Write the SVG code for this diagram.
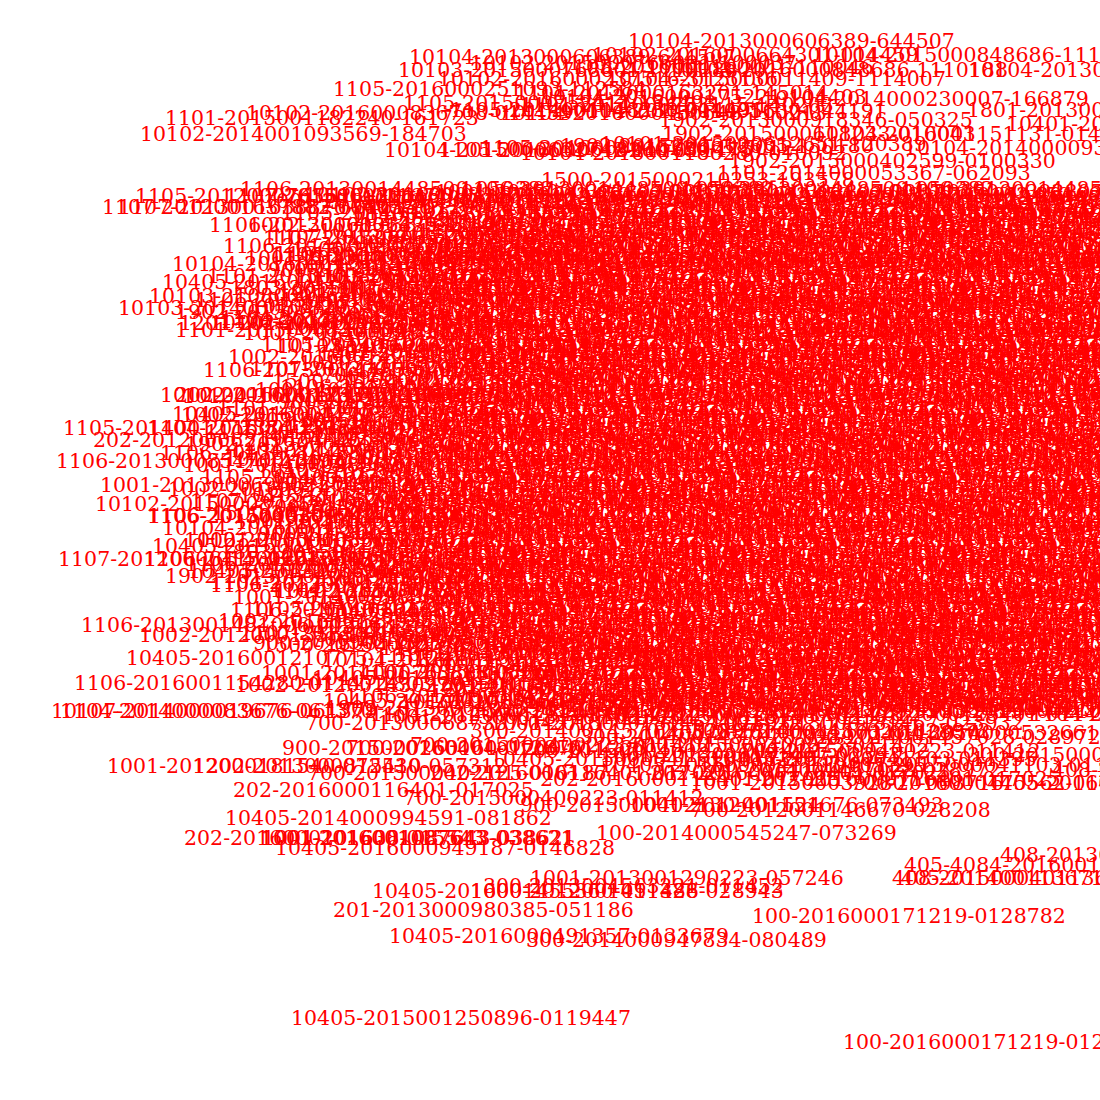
<svg xmlns="http://www.w3.org/2000/svg" xmlns:xlink="http://www.w3.org/1999/xlink" width="1100" height="1100" viewBox="0 0 1100 1100">
<style>
text{font-family:"DejaVu Serif","Liberation Serif",serif;font-size:20.5px;fill:#ff0000}
</style>
<defs>
<g id="k1">
<text x="0" y="0">1106-2013001448500-050382</text>
<text x="64" y="6">10102-2016000836708-014459</text>
<text x="23" y="12">1001-2014000983620-011527</text>
<text x="97" y="18">10405-2012000634150-107723</text>
<text x="41" y="24">1105-2014001272384-131650</text>
<text x="112" y="30">202-2012000621962-012750</text>
<text x="8" y="36">1002-2016001479381-016325</text>
<text x="79" y="42">10103-2014000838203-062114</text>
<text x="30" y="48">1107-2012001657902-114467</text>
<text x="101" y="54">700-2013000687337-045701</text>
<text x="52" y="60">1500-2015000210253-193578</text>
</g>
<g id="k2">
<text x="85" y="3">1001-2015000392807-008716</text>
<text x="12" y="9">10104-2016001151131-014720</text>
<text x="108" y="15">900-2013001355777-011562</text>
<text x="47" y="21">1101-2015000836760-011520</text>
<text x="2" y="27">10405-2016001210775-115124</text>
<text x="70" y="33">1803-2015001049263-011046</text>
<text x="118" y="39">1201-2016000611261-022453</text>
<text x="35" y="45">1106-2015000304215-015037</text>
<text x="90" y="51">10102-2015000873521-004583</text>
<text x="15" y="57">1902-2015000402599-010033</text>
<text x="60" y="63">1104-2012000125401-011478</text>
</g>
<g id="k3">
<text x="0" y="0">1001-2013000181467-023932</text>
<text x="90" y="14">300-2014001457028-028972</text>
<text x="30" y="28">700-2015000400223-011412</text>
<text x="110" y="42">10405-2015000041103-011395</text>
<text x="50" y="56">202-2016000116401-017025</text>
</g>
</defs>
<rect width="1100" height="1100" fill="#ffffff"/>
<g id="connectors"></g>
<g id="cloud">
<use xlink:href="#k1" x="240" y="196"/><use xlink:href="#k2" x="350" y="196"/><use xlink:href="#k1" x="460" y="196"/><use xlink:href="#k2" x="570" y="196"/><use xlink:href="#k1" x="680" y="196"/><use xlink:href="#k2" x="790" y="196"/><use xlink:href="#k1" x="900" y="196"/><use xlink:href="#k2" x="1010" y="196"/>
<use xlink:href="#k2" x="160" y="262"/><use xlink:href="#k1" x="270" y="262"/><use xlink:href="#k2" x="380" y="262"/><use xlink:href="#k1" x="490" y="262"/><use xlink:href="#k2" x="600" y="262"/><use xlink:href="#k1" x="710" y="262"/><use xlink:href="#k2" x="820" y="262"/><use xlink:href="#k1" x="930" y="262"/><use xlink:href="#k2" x="1040" y="262"/>
<use xlink:href="#k1" x="220" y="328"/><use xlink:href="#k2" x="330" y="328"/><use xlink:href="#k1" x="440" y="328"/><use xlink:href="#k2" x="550" y="328"/><use xlink:href="#k1" x="660" y="328"/><use xlink:href="#k2" x="770" y="328"/><use xlink:href="#k1" x="880" y="328"/><use xlink:href="#k2" x="990" y="328"/>
<use xlink:href="#k2" x="170" y="394"/><use xlink:href="#k1" x="280" y="394"/><use xlink:href="#k2" x="390" y="394"/><use xlink:href="#k1" x="500" y="394"/><use xlink:href="#k2" x="610" y="394"/><use xlink:href="#k1" x="720" y="394"/><use xlink:href="#k2" x="830" y="394"/><use xlink:href="#k1" x="940" y="394"/><use xlink:href="#k2" x="1050" y="394"/>
<use xlink:href="#k1" x="160" y="460"/><use xlink:href="#k2" x="270" y="460"/><use xlink:href="#k1" x="380" y="460"/><use xlink:href="#k2" x="490" y="460"/><use xlink:href="#k1" x="600" y="460"/><use xlink:href="#k2" x="710" y="460"/><use xlink:href="#k1" x="820" y="460"/><use xlink:href="#k2" x="930" y="460"/><use xlink:href="#k1" x="1040" y="460"/>
<use xlink:href="#k2" x="150" y="526"/><use xlink:href="#k1" x="260" y="526"/><use xlink:href="#k2" x="370" y="526"/><use xlink:href="#k1" x="480" y="526"/><use xlink:href="#k2" x="590" y="526"/><use xlink:href="#k1" x="700" y="526"/><use xlink:href="#k2" x="810" y="526"/><use xlink:href="#k1" x="920" y="526"/><use xlink:href="#k2" x="1030" y="526"/>
<use xlink:href="#k1" x="210" y="592"/><use xlink:href="#k2" x="320" y="592"/><use xlink:href="#k1" x="430" y="592"/><use xlink:href="#k2" x="540" y="592"/><use xlink:href="#k1" x="650" y="592"/><use xlink:href="#k2" x="760" y="592"/><use xlink:href="#k1" x="870" y="592"/><use xlink:href="#k2" x="980" y="592"/>
<use xlink:href="#k2" x="310" y="658"/><use xlink:href="#k1" x="420" y="658"/><use xlink:href="#k2" x="530" y="658"/><use xlink:href="#k1" x="640" y="658"/><use xlink:href="#k2" x="750" y="658"/><use xlink:href="#k1" x="860" y="658"/><use xlink:href="#k2" x="970" y="658"/>
<use xlink:href="#k3" x="380" y="724"/><use xlink:href="#k3" x="490" y="730"/><use xlink:href="#k3" x="600" y="724"/><use xlink:href="#k3" x="710" y="730"/>
</g>
<g id="nodes">
<g id="n1"><text x="628" y="48">10104-2013000606389-644507</text></g>
<g id="n2"><text x="409" y="64">10104-2013000606389-644507</text></g>
<g id="n3"><text x="592" y="62">10102-2016000664301-014459</text></g>
<g id="n4"><text x="813" y="62">10104-2015000848686-1110373</text></g>
<g id="n5"><text x="398" y="77">10103-2015000768601-1110188</text></g>
<g id="n6"><text x="668" y="77">10103-2016000848686-1110188</text></g>
<g id="n7"><text x="968" y="77">10104-2013000606389-644507</text></g>
<g id="n8"><text x="438" y="86">10102-2016000237516-3125136</text></g>
<g id="n9"><text x="606" y="86">10104-2015000011409-1114007</text></g>
<g id="n10"><text x="333" y="96">1105-2016000251093-112584</text></g>
<g id="n11"><text x="403" y="110">1105-2015000753411-154403</text></g>
<g id="n12"><text x="762" y="106">10104-2014000230007-166879</text></g>
<g id="n13"><text x="967" y="117">1801-2013001492836-014512</text></g>
<g id="n14"><text x="165" y="125">1101-2015001182240-161723</text></g>
<g id="n15"><text x="246" y="120">10102-2016000836708-014459</text></g>
<g id="n16"><text x="659" y="127">1902-2013000918346-050325</text></g>
<g id="n17"><text x="1006" y="131">10401-2016000457214-014412</text></g>
<g id="n18"><text x="520" y="112">1101-2014000753115-140203</text></g>
<g id="n19"><text x="560" y="118">10104-2014001005630-044191</text></g>
<g id="n20"><text x="140" y="141">10102-2014001093569-184703</text></g>
<g id="n21"><text x="384" y="157">10104-2015000631742-111650</text></g>
<g id="n22"><text x="439" y="157">1105-2016000618260-011475</text></g>
<g id="n23"><text x="662" y="141">1902-2015000618233-010043</text></g>
<g id="n24"><text x="813" y="141">10104-2016001151131-014720</text></g>
<g id="n25"><text x="904" y="155">10104-2014000093267-016108</text></g>
<g id="n26"><text x="480" y="155">1105-2016000615226-115012</text></g>
<g id="n27"><text x="600" y="151">10101-2015000612651-120389</text></g>
<g id="n28"><text x="729" y="168">1902-2015000402599-0100330</text></g>
<g id="n29"><text x="717" y="180">1101-2014000053367-062093</text></g>
<g id="n30"><text x="541" y="187">1500-2015000210253-193578</text></g>
<g id="n31"><text x="470" y="70">10102-2015000766001-100037</text></g>
<g id="n32"><text x="560" y="74">1105-2016000160001-110046</text></g>
<g id="n33"><text x="515" y="100">1101-2014000163201-145014</text></g>
<g id="n34"><text x="540" y="104">10104-2016000175221-104403</text></g>
<g id="n35"><text x="450" y="117">1105-2014001148230-014491</text></g>
<g id="n36"><text x="500" y="120">10104-2016000450648-110213</text></g>
<g id="n37"><text x="520" y="160">10104-2016001186280-010092</text></g>
<g id="n38"><text x="560" y="153">1902-2015000612635-150180</text></g>
<g id="n39"><text x="135" y="203">1105-2012000765616-011671</text></g>
<g id="n40"><text x="225" y="203">1107-2015000226160-011673</text></g>
<g id="n41"><text x="102" y="214">1107-2012001637882-070035</text></g>
<g id="n42"><text x="118" y="214">1107-2013001638876-046136</text></g>
<g id="n43"><text x="209" y="232">1106-2013000136335-114700</text></g>
<g id="n44"><text x="223" y="253">1106-2014001207350-061215</text></g>
<g id="n45"><text x="263" y="245">1107-2015000651220-114850</text></g>
<g id="n46"><text x="274" y="261">1101-2015001540620-140012</text></g>
<g id="n47"><text x="300" y="265">1500-2015000264718-021634</text></g>
<g id="n48"><text x="295" y="283">10103-2012001163452-011376</text></g>
<g id="n49"><text x="326" y="295">1002-2016001573520-012541</text></g>
<g id="n50"><text x="149" y="303">10103-2108000165090-033845</text></g>
<g id="n51"><text x="118" y="315">10103-2014000838203-062114</text></g>
<g id="n52"><text x="179" y="330">1201-2016000120003-016188</text></g>
<g id="n53"><text x="210" y="330">10102-2016000920613-011664</text></g>
<g id="n54"><text x="175" y="337">1101-2015000836760-011520</text></g>
<g id="n55"><text x="277" y="353">10103-2016000265810-104312</text></g>
<g id="n56"><text x="318" y="361">1001-2014000983620-011527</text></g>
<g id="n57"><text x="203" y="377">1106-2013001448500-050382</text></g>
<g id="n58"><text x="160" y="402">10102-2016001233470-014158</text></g>
<g id="n59"><text x="175" y="402">202-2016000123571-011624</text></g>
<g id="n60"><text x="181" y="422">1002-2016001479381-016325</text></g>
<g id="n61"><text x="63" y="435">1105-2014001272384-131650</text></g>
<g id="n62"><text x="147" y="435">1104-2016001250214-011602</text></g>
<g id="n63"><text x="93" y="447">202-2012000621962-012750</text></g>
<g id="n64"><text x="56" y="468">1106-2013000854700-149214</text></g>
<g id="n65"><text x="100" y="492">1001-2013000696021-010412</text></g>
<g id="n66"><text x="95" y="511">10102-2015000873521-004583</text></g>
<g id="n67"><text x="147" y="523">1106-2015000301742-011654</text></g>
<g id="n68"><text x="148" y="523">1106-2015000301742-011654</text></g>
<g id="n69"><text x="184" y="547">1002-2016001635132-011742</text></g>
<g id="n70"><text x="58" y="566">1107-2012000641538-013547</text></g>
<g id="n71"><text x="144" y="566">1106-2014001520608-141127</text></g>
<g id="n72"><text x="188" y="578">10405-2012000634150-107723</text></g>
<g id="n73"><text x="270" y="597">1104-2012000125401-011478</text></g>
<g id="n74"><text x="230" y="617">1106-2015000304215-015037</text></g>
<g id="n75"><text x="81" y="632">1106-2013001481006-015063</text></g>
<g id="n76"><text x="139" y="642">1002-2012000135650-036347</text></g>
<g id="n77"><text x="253" y="650">900-2013001355777-011562</text></g>
<g id="n78"><text x="126" y="665">10405-2016001210775-115124</text></g>
<g id="n79"><text x="442" y="660">201-2013001218870-110634</text></g>
<g id="n80"><text x="74" y="690">1106-2016001154280-011472</text></g>
<g id="n81"><text x="261" y="680">1001-2014000763883-076612</text></g>
<g id="n82"><text x="235" y="692">1002-2012001430279-041035</text></g>
<g id="n83"><text x="530" y="680">1001-2013000591788-011874</text></g>
<g id="n84"><text x="51" y="718">10107-2014000019676-061379</text></g>
<g id="n85"><text x="60" y="718">1104-2014000083676-061370</text></g>
<g id="n86"><text x="323" y="708">10405-2012001000150-011627</text></g>
<g id="n87"><text x="305" y="730">700-2013000687337-045701</text></g>
<g id="n88"><text x="282" y="755">900-2015000260160-012876</text></g>
<g id="n89"><text x="346" y="755">700-2016000461200-011226</text></g>
<g id="n90"><text x="107" y="773">1001-2012000181540-072530</text></g>
<g id="n91"><text x="193" y="773">1202-2013000815410-057312</text></g>
<g id="n92"><text x="307" y="780">700-2015000402125-016187</text></g>
<g id="n93"><text x="233" y="797">202-2016000116401-017025</text></g>
<g id="n94"><text x="403" y="805">700-2015000400223-011412</text></g>
<g id="n95"><text x="225" y="825">10405-2014000994591-081862</text></g>
<g id="n96"><text x="184" y="845">202-2016000101638-015543</text></g>
<g id="n97"><text x="260" y="845">1001-2016001087643-038621</text></g>
<g id="n98"><text x="262" y="845">1001-2016001087643-038621</text></g>
<g id="n99"><text x="275" y="855">10405-2016000949187-0146828</text></g>
<g id="n100"><text x="596" y="840">100-2014000545247-073269</text></g>
<g id="n101"><text x="690" y="817">700-2012001146670-028208</text></g>
<g id="n102"><text x="630" y="812">1001-2012001151676-073493</text></g>
<g id="n103"><text x="520" y="812">900-2015000402130-401524</text></g>
<g id="n104"><text x="690" y="790">1001-2015000392807-008716</text></g>
<g id="n105"><text x="850" y="790">700-2016000475562-014830</text></g>
<g id="n106"><text x="1000" y="790">405-2016001309</text></g>
<g id="n107"><text x="700" y="777">300-2014001457028-028972</text></g>
<g id="n108"><text x="1052" y="777">408-2015000</text></g>
<g id="n109"><text x="600" y="762">1001-2013000181467-02393</text></g>
<g id="n110"><text x="967" y="762">300-2015000417728</text></g>
<g id="n111"><text x="640" y="740">10405-2015000041103-0113950</text></g>
<g id="n112"><text x="870" y="740">1104-2014000532661</text></g>
<g id="n113"><text x="1000" y="862">408-2013002451</text></g>
<g id="n114"><text x="904" y="872">405-4084-2016001530</text></g>
<g id="n115"><text x="530" y="885">1001-2013001290223-057246</text></g>
<g id="n116"><text x="892" y="885">408-2015000401136-016</text></g>
<g id="n117"><text x="901" y="885">405-2014001136712-011</text></g>
<g id="n118"><text x="372" y="898">10405-2016001455360-011486</text></g>
<g id="n119"><text x="470" y="898">1000-2012001451328-028943</text></g>
<g id="n120"><text x="483" y="893">300-2013004563221-011452</text></g>
<g id="n121"><text x="333" y="917">201-2013000980385-051186</text></g>
<g id="n122"><text x="752" y="923">100-2016000171219-0128782</text></g>
<g id="n123"><text x="389" y="943">10405-2016000491357-0133679</text></g>
<g id="n124"><text x="526" y="947">300-2014000947834-080489</text></g>
<g id="n125"><text x="291" y="1025">10405-2015001250896-0119447</text></g>
<g id="n126"><text x="843" y="1049">100-2016000171219-0128782</text></g>
<g id="n127"><text x="901" y="222">1803-2013000000358-011463</text></g>
<g id="n128"><text x="906" y="267">1803-2015001049263-011046</text></g>
<g id="n129"><text x="590" y="267">1201-2016000611261-022453</text></g>
<g id="n130"><text x="790" y="337">1001-2014001779800-305612</text></g>
<g id="n131"><text x="750" y="312">1501-2013000102289479</text></g>
<g id="n132"><text x="790" y="360">1001-2013000187860-045217</text></g>
<g id="n133"><text x="860" y="603">1104-2013000532688</text></g>
<g id="n134"><text x="770" y="622">1106-2015001496-140575</text></g>
<g id="n135"><text x="800" y="643">1001-2015000040004600</text></g>
<g id="n136"><text x="800" y="672">1106-2013000293339-03</text></g>
<g id="n137"><text x="860" y="692">407407-3000401129</text></g>
<g id="n138"><text x="900" y="712">1106-2016000417</text></g>
</g>
</svg>
